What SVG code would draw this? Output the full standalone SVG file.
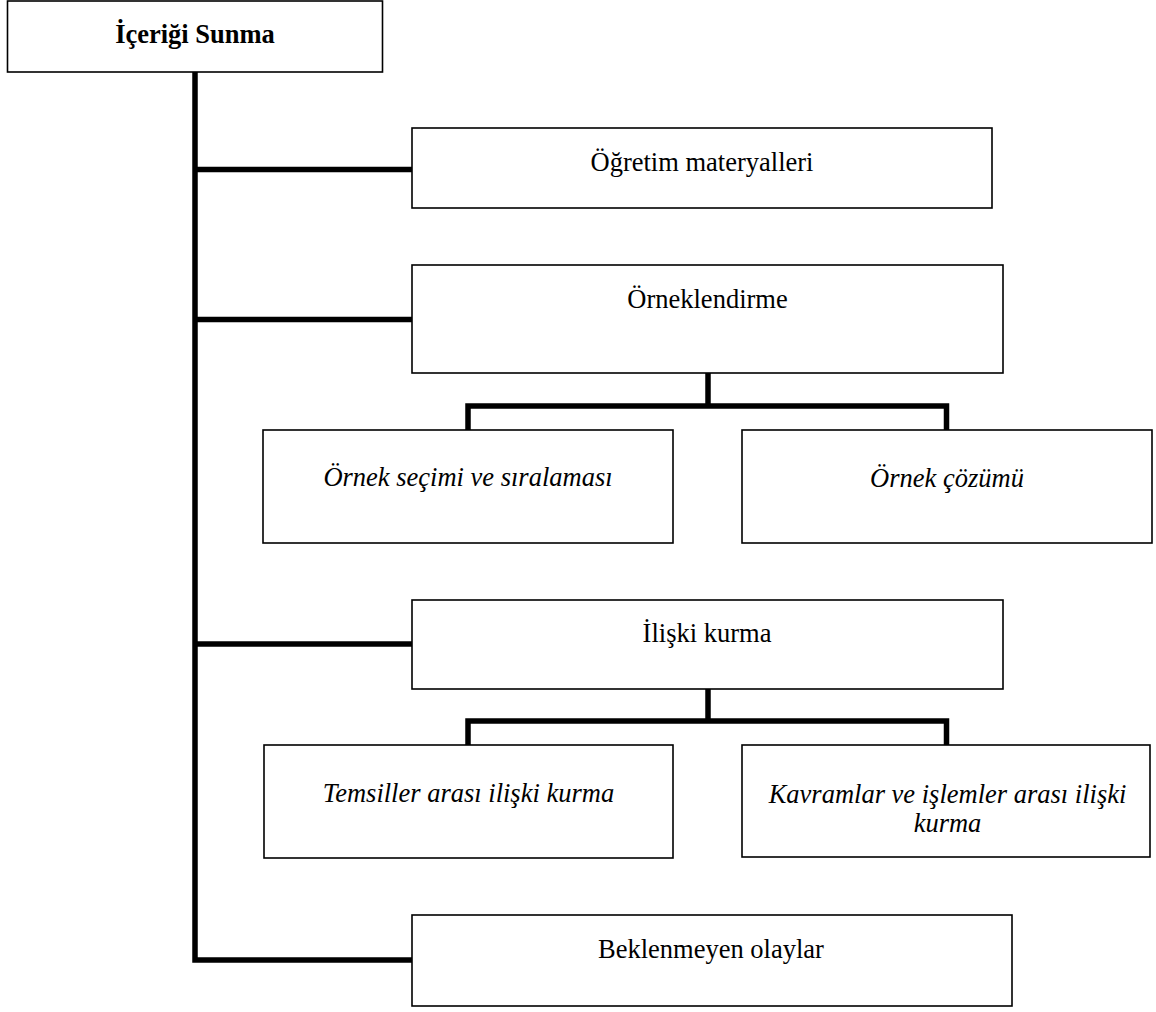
<svg xmlns="http://www.w3.org/2000/svg" width="1156" height="1012" viewBox="0 0 1156 1012">
<style>
.box{fill:#fff;stroke:#000;stroke-width:1.6}
.t{font-family:"Liberation Serif","Times New Roman",serif;font-size:26.5px;fill:#000;text-anchor:middle}
.b{font-weight:bold}
.i{font-style:italic}
.c{fill:none;stroke:#000;stroke-width:5.5;stroke-linejoin:miter;stroke-linecap:butt}
</style>
<rect width="1156" height="1012" fill="#fff"/>
<g id="connectors">
<path class="c" d="M195,72 V960 H412"/>
<path class="c" d="M195,169.5 H412"/>
<path class="c" d="M195,319.5 H412"/>
<path class="c" d="M195,644 H412"/>
<path class="c" d="M708,373 V406"/>
<path class="c" d="M468,430 V406 H946.5 V430"/>
<path class="c" d="M708,689 V721"/>
<path class="c" d="M468,745 V721 H946.5 V745"/>
</g>
<g id="n-root">
<rect class="box" x="7.5" y="1" width="375" height="71"/>
<text class="t b" x="195" y="43">İçeriği Sunma</text>
</g>
<g id="n-ogretim">
<rect class="box" x="412" y="128" width="580" height="80"/>
<text class="t" x="702" y="171">Öğretim materyalleri</text>
</g>
<g id="n-ornek">
<rect class="box" x="412" y="265" width="591" height="108"/>
<text class="t" x="707.5" y="308">Örneklendirme</text>
</g>
<g id="n-secim">
<rect class="box" x="263" y="430" width="410" height="113"/>
<text class="t i" x="468" y="486">Örnek seçimi ve sıralaması</text>
</g>
<g id="n-cozum">
<rect class="box" x="742" y="430" width="410" height="113"/>
<text class="t i" x="947" y="487">Örnek çözümü</text>
</g>
<g id="n-iliski">
<rect class="box" x="412" y="600" width="591" height="89"/>
<text class="t" x="707" y="642">İlişki kurma</text>
</g>
<g id="n-temsil">
<rect class="box" x="264" y="745" width="409" height="113"/>
<text class="t i" x="468.5" y="802">Temsiller arası ilişki kurma</text>
</g>
<g id="n-kavram">
<rect class="box" x="742" y="745" width="408" height="112"/>
<text class="t i" x="947.5" y="803">Kavramlar ve işlemler arası ilişki</text>
<text class="t i" x="947.5" y="832">kurma</text>
</g>
<g id="n-beklenmeyen">
<rect class="box" x="412" y="915" width="600" height="91"/>
<text class="t" x="711" y="958">Beklenmeyen olaylar</text>
</g>
</svg>
